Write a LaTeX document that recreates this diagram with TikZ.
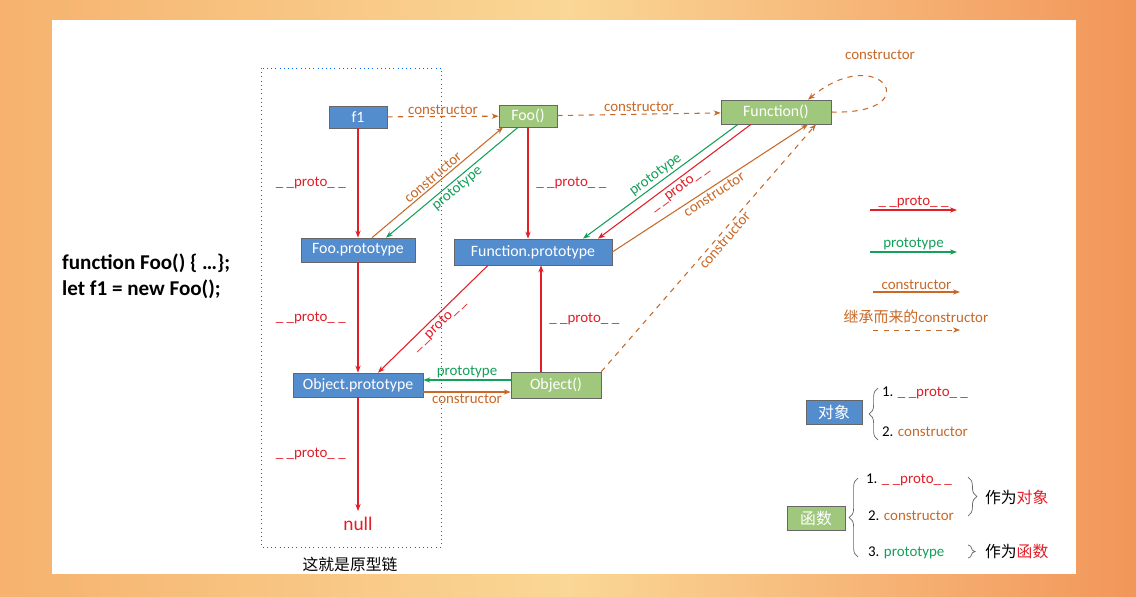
\documentclass[tikz,border=0pt]{standalone}
\usepackage{fontspec}
\setmainfont{Carlito}
\newfontfamily\cjk{Noto Sans CJK SC}
\usetikzlibrary{positioning, decorations.pathreplacing, arrows.meta}

\definecolor{objblue}{RGB}{84,141,206}
\definecolor{fungreen}{RGB}{160,200,125}
\definecolor{protored}{RGB}{226,30,40}
\definecolor{ctorbrown}{RGB}{200,105,40}
\definecolor{protogreen}{RGB}{20,160,90}
\definecolor{bgleft}{RGB}{246,178,110}
\definecolor{bgmid}{RGB}{250,215,150}
\definecolor{bgright}{RGB}{242,150,90}
\newcommand\px{*0.02cm}

\tikzset{
  obj/.style={draw=black!60, fill=objblue, text=white, minimum height=22\px, inner sep=1pt, font=\fontsize{9}{10}\selectfont},
  fun/.style={draw=black!60, fill=fungreen, text=white, minimum height=22\px, inner sep=1pt, font=\fontsize{9}{10}\selectfont},
  lbl/.style={font=\fontsize{8.5}{9}\selectfont, inner sep=1pt},
  proto/.style={protored, -{Stealth[length=4pt]}, semithick},
  ptype/.style={protogreen, -{Stealth[length=4pt]}, semithick},
  ctor/.style={ctorbrown, -{Stealth[length=4pt]}, semithick},
  ictor/.style={ctorbrown, dashed, -{Stealth[length=4pt]}, semithick},
}

\begin{document}
\begin{tikzpicture}[x=0.02cm, y=-0.02cm]
% background
\shade[left color=bgleft, right color=bgright, middle color=bgmid] (0,0) rectangle (1136,596);
\fill[white] (52,20) rectangle (1076,574);
\useasboundingbox (0,0) rectangle (1136,596);

% chain box
\draw[blue!60!cyan, dotted] (261,68) rectangle (441,547);
\node[lbl, font=\cjk\fontsize{9}{10}\selectfont] (caption) at (350,564) {这就是原型链};

% code
\node[anchor=west, align=left, font=\bfseries\fontsize{12}{15}\selectfont] (code) at (56,276) {function Foo() \{ …\};\\let f1 = new Foo();};

% nodes
\node[obj, minimum width=58\px] (f1) at (358,117) {f1};
\node[fun, minimum width=58\px] (foo) at (528,116) {Foo()};
\node[fun, minimum width=110\px, minimum height=24\px] (func) at (776,112) {Function()};
\node[obj, minimum width=114\px, minimum height=24\px] (foop) at (358,250) {Foo.prototype};
\node[obj, minimum width=158\px, minimum height=26\px] (funcp) at (533,252) {Function.prototype};
\node[obj, minimum width=130\px, minimum height=24\px] (objp) at (358,385) {Object.prototype};
\node[fun, minimum width=90\px, minimum height=26\px] (object) at (556,385) {Object()};
\node[protored, font=\fontsize{11}{13}\selectfont] (null) at (358,524) {null};

% constructor (inherited)
\draw[ictor] (f1) -- node[lbl, above, ctorbrown] {constructor} (foo);
\draw[ictor] (foo) -- node[lbl, above, ctorbrown] {constructor} (func);
\draw[ictor] (func.east) .. controls (930,115) and (880,40) .. ([xshift=32\px]func.north);
\node[lbl, ctorbrown] (selflbl) at (880,55) {constructor};
\draw[ictor] (object.north east) -- node[lbl, sloped, pos=0.55, below, ctorbrown] {constructor} ([xshift=40\px]func.south);

% __proto__
\draw[proto] (f1) -- node[lbl, left=10] {\_ \_proto\_ \_} (foop);
\draw[proto] (foo) -- node[lbl, right=6] {\_ \_proto\_ \_} ([xshift=-5\px]funcp.north);
\draw[proto] ([xshift=-25\px]func.south) -- node[lbl, sloped, pos=0.5, below] {\_ \_proto\_ \_} ([xshift=65\px]funcp.north);
\draw[proto] (foop) -- node[lbl, left=10] {\_ \_proto\_ \_} (objp);
\draw[proto] ([xshift=-45\px]funcp.south) -- node[lbl, sloped, pos=0.5, below] {\_ \_proto\_ \_} ([xshift=20\px]objp.north);
\draw[proto] ([xshift=-15\px]object.north) -- node[lbl, right=6] {\_ \_proto\_ \_} ([xshift=8\px]funcp.south);
\draw[proto] (objp) -- node[lbl, left=10] {\_ \_proto\_ \_} (null);

% prototype
\draw[ptype] ([xshift=-10\px]foo.south) -- node[lbl, sloped, below, protogreen] {prototype} ([xshift=28\px]foop.north);
\draw[ptype] ([xshift=-38\px]func.south) -- node[lbl, sloped, above, protogreen] {prototype} ([xshift=50\px]funcp.north);
\draw[ptype] ([yshift=5\px]object.west) -- node[lbl, above, protogreen] {prototype} ([yshift=5\px]objp.east);

% constructor
\draw[ctor] ([xshift=14\px]foop.north) -- node[lbl, sloped, above, ctorbrown] {constructor} ([xshift=-25\px]foo.south);
\draw[ctor] (funcp.east) -- node[lbl, sloped, pos=0.5, below, ctorbrown] {constructor} ([xshift=32\px]func.south);
\draw[ctor] ([yshift=-7\px]objp.east) -- node[lbl, below, ctorbrown] {constructor} ([yshift=-7\px]object.west);

% legend
\coordinate (l1a) at (870,210); \coordinate (l1b) at (957,210);
\draw[proto] (l1a) -- node[lbl, above] {\_ \_proto\_ \_} (l1b);
\coordinate (l2a) at (870,252); \coordinate (l2b) at (957,252);
\draw[ptype] (l2a) -- node[lbl, above, protogreen] {prototype} (l2b);
\coordinate (l3a) at (873,292); \coordinate (l3b) at (960,292);
\draw[ctor] (l3a) -- node[lbl, above, ctorbrown] {constructor} (l3b);
\coordinate (l4a) at (873,330); \coordinate (l4b) at (960,330);
\draw[ictor, thin] (l4a) -- (l4b);
\node[lbl, ctorbrown] (l4lbl) at (916,317) {{\cjk 继承而来的}constructor};

% object / function summary
\node[obj, minimum width=56\px, minimum height=24\px, font=\cjk\fontsize{9}{10}\selectfont] (dx) at (834,412) {对象};
\draw[decorate, decoration={brace, amplitude=5pt}, black!60] (878,440) -- (878,388);
\node[lbl, anchor=west] (dx1) at (880,393) {1. \textcolor{protored}{\_ \_proto\_ \_}};
\node[lbl, anchor=west] (dx2) at (880,432) {2. \textcolor{ctorbrown}{constructor}};

\node[fun, minimum width=58\px, minimum height=24\px, font=\cjk\fontsize{9}{10}\selectfont] (hs) at (816,518) {函数};
\draw[decorate, decoration={brace, amplitude=5pt}, black!60] (858,557) -- (858,478);
\node[lbl, anchor=west] (hs1) at (864,480) {1. \textcolor{protored}{\_ \_proto\_ \_}};
\node[lbl, anchor=west] (hs2) at (866,516) {2. \textcolor{ctorbrown}{constructor}};
\node[lbl, anchor=west] (hs3) at (866,553) {3. \textcolor{protogreen}{prototype}};
\draw[decorate, decoration={brace, amplitude=5pt}, black!60] (968,477) -- (968,516);
\node[lbl, anchor=west, font=\cjk\fontsize{9}{10}\selectfont] (asobj) at (983,497) {作为\textcolor{protored}{对象}};
\draw[decorate, decoration={brace, amplitude=4pt}, black!60] (968,545) -- (968,558);
\node[lbl, anchor=west, font=\cjk\fontsize{9}{10}\selectfont] (asfun) at (983,551) {作为\textcolor{protored}{函数}};
\end{tikzpicture}
\end{document}
